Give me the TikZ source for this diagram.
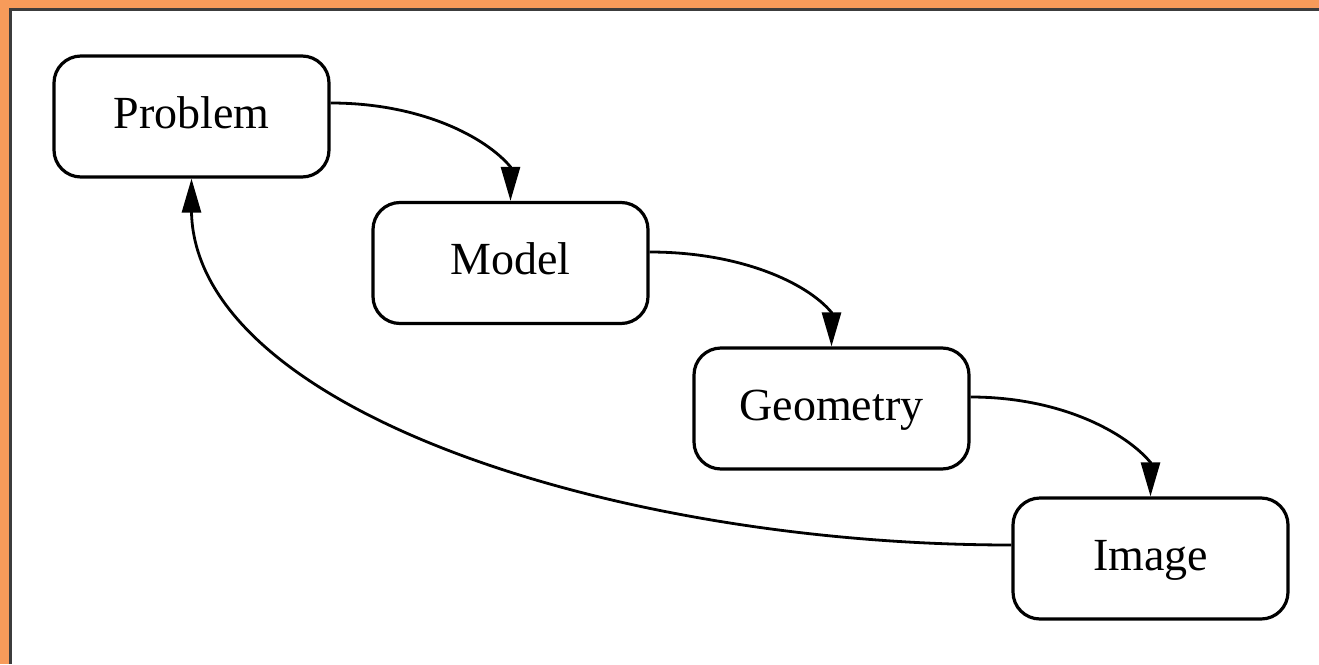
\documentclass[tikz,border=0pt]{standalone}
\usepackage{fontspec}
\setmainfont{Liberation Serif}
\usetikzlibrary{arrows.meta}
\definecolor{frameorange}{RGB}{247,155,90}
\definecolor{framedark}{RGB}{60,60,60}
\begin{document}
\begin{tikzpicture}[x=1pt,y=-1pt,
  box/.style={draw, line width=3.2pt, rounded corners=27pt, minimum width=275pt,
    minimum height=121pt, inner sep=0pt, text height=23pt, text depth=0pt,
    font=\fontsize{46}{55}\selectfont},
  conn/.style={line width=2.8pt, -{Triangle[length=34pt,width=19pt]}}]
\useasboundingbox (0,0) rectangle (1319,664);
\fill[frameorange] (0,0) rectangle (1319,664);
\fill[white] (10.5,9) rectangle (1319,664);
\draw[framedark, line width=3pt] (10.5,664) -- (10.5,9) -- (1319,9);

\node[box] (prob)  at (191.5,116.5) {Problem};
\node[box] (model) at (510.5,263)   {Model};
\node[box] (geom)  at (831.5,408.5) {Geometry};
\node[box] (img)   at (1150.5,558.5) {Image};

\draw[conn] ([yshift=13.5pt]prob.east) .. controls +(90,0) and +(-25,-30) .. ([yshift=34pt]model.north) -- (model.north);
\draw[conn] ([yshift=11pt]model.east) .. controls +(90,0) and +(-25,-30) .. ([yshift=34pt]geom.north) -- (geom.north);
\draw[conn] ([yshift=11.5pt]geom.east) .. controls +(90,0) and +(-25,-30) .. ([yshift=34pt]img.north) -- (img.north);
\draw[conn] ([yshift=13.5pt]img.west) .. controls +(-400,0) and +(5,196) .. ([yshift=-34pt]prob.south) -- (prob.south);
\end{tikzpicture}
\end{document}
